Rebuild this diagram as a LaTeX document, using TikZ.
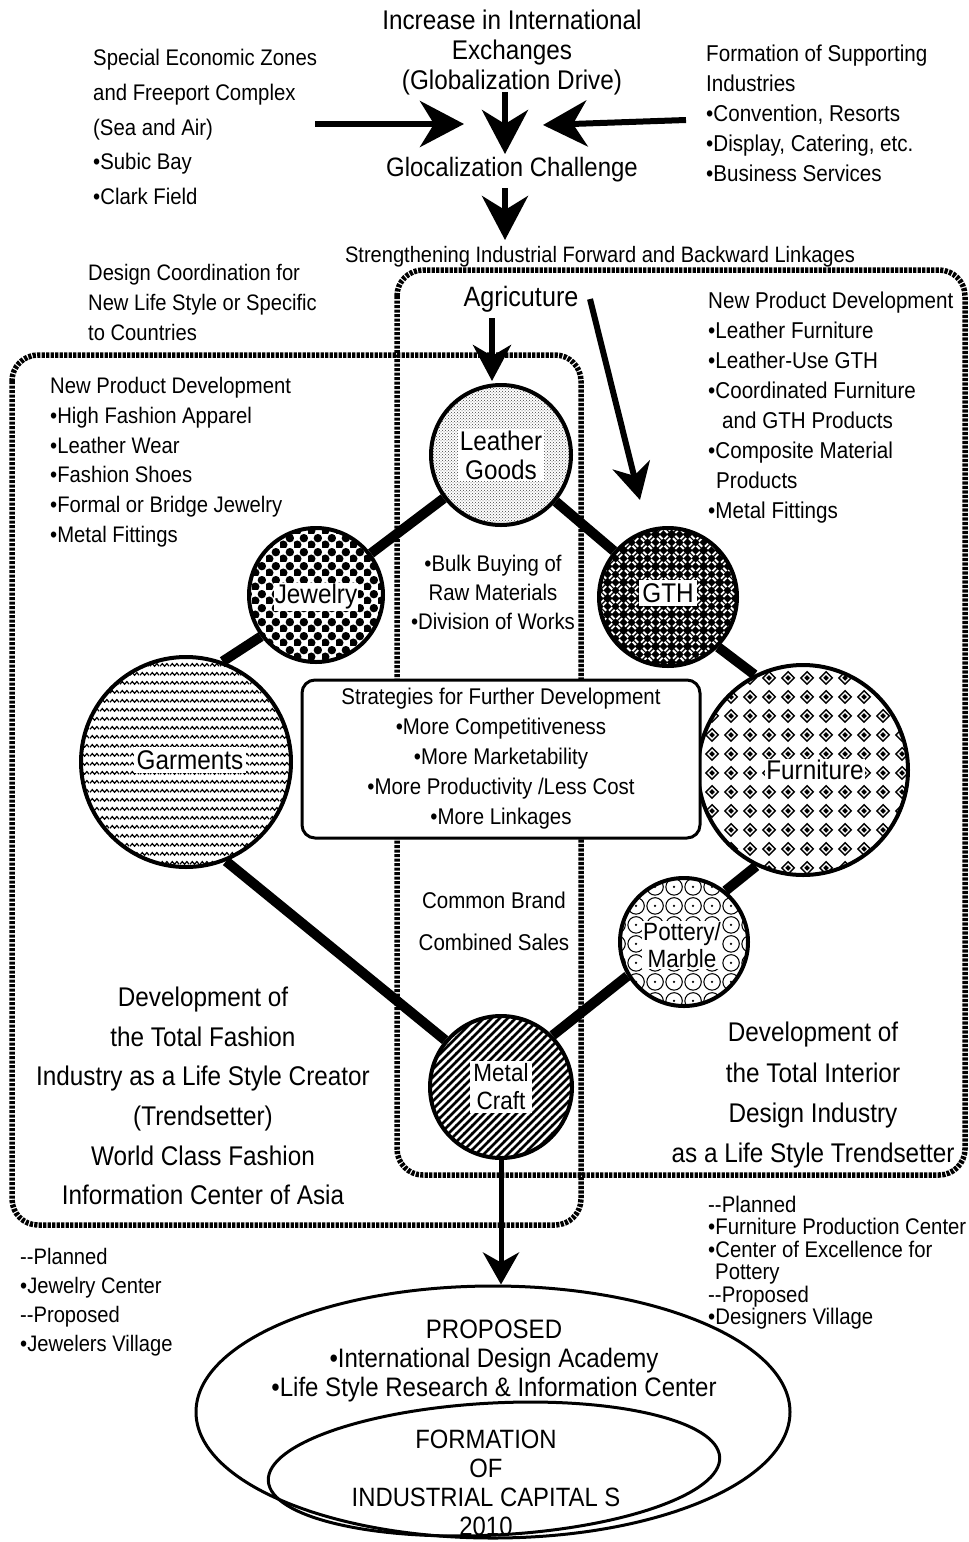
\documentclass[tikz,border=0pt]{standalone}
\usepackage{fontspec}
\setmainfont{Liberation Sans}[FakeStretch=0.9]
\usetikzlibrary{arrows.meta,shapes.geometric,patterns}
\newcommand\fsz[2]{\fontsize{#1}{#2}\selectfont}

% patterns
\pgfdeclarepatternformonly{zig}{\pgfpointorigin}{\pgfpoint{10pt}{9pt}}{\pgfpoint{10pt}{9pt}}{%
  \pgfsetlinewidth{1.3pt}
  \pgfpathmoveto{\pgfpoint{0pt}{3pt}}
  \pgfpathlineto{\pgfpoint{2.5pt}{6pt}}
  \pgfpathlineto{\pgfpoint{5pt}{3pt}}
  \pgfpathlineto{\pgfpoint{7.5pt}{6pt}}
  \pgfpathlineto{\pgfpoint{10pt}{3pt}}
  \pgfusepathqstroke}
\pgfdeclarepatternformonly{jdots}{\pgfpointorigin}{\pgfpoint{14pt}{14pt}}{\pgfpoint{14pt}{14pt}}{%
  \pgfpathcircle{\pgfpoint{3.5pt}{3.5pt}}{4.5pt}
  \pgfpathcircle{\pgfpoint{10.5pt}{10.5pt}}{4.5pt}
  \pgfusepathqfill}
\pgfdeclarepatternformonly{weave}{\pgfpointorigin}{\pgfpoint{16pt}{16pt}}{\pgfpoint{16pt}{16pt}}{%
  \pgfsetlinewidth{2pt}
  \pgfpathmoveto{\pgfpoint{1pt}{3.5pt}}\pgfpathlineto{\pgfpoint{4.5pt}{7pt}}
  \pgfpathmoveto{\pgfpoint{3.5pt}{1pt}}\pgfpathlineto{\pgfpoint{7pt}{4.5pt}}
  \pgfpathmoveto{\pgfpoint{9pt}{11.5pt}}\pgfpathlineto{\pgfpoint{12.5pt}{15pt}}
  \pgfpathmoveto{\pgfpoint{11.5pt}{9pt}}\pgfpathlineto{\pgfpoint{15pt}{12.5pt}}
  \pgfpathmoveto{\pgfpoint{9pt}{4.5pt}}\pgfpathlineto{\pgfpoint{12.5pt}{1pt}}
  \pgfpathmoveto{\pgfpoint{11.5pt}{7pt}}\pgfpathlineto{\pgfpoint{15pt}{3.5pt}}
  \pgfpathmoveto{\pgfpoint{1pt}{12.5pt}}\pgfpathlineto{\pgfpoint{4.5pt}{9pt}}
  \pgfpathmoveto{\pgfpoint{3.5pt}{15pt}}\pgfpathlineto{\pgfpoint{7pt}{11.5pt}}
  \pgfusepathqstroke}
\pgfdeclarepatternformonly{dia}{\pgfpointorigin}{\pgfpoint{19pt}{19pt}}{\pgfpoint{19pt}{19pt}}{%
  \pgfsetlinewidth{1.5pt}
  \pgfpathmoveto{\pgfpoint{9.5pt}{3pt}}\pgfpathlineto{\pgfpoint{16pt}{9.5pt}}
  \pgfpathlineto{\pgfpoint{9.5pt}{16pt}}\pgfpathlineto{\pgfpoint{3pt}{9.5pt}}\pgfpathclose
  \pgfusepathqstroke
  \pgfpathmoveto{\pgfpoint{9.5pt}{6.5pt}}\pgfpathlineto{\pgfpoint{12.5pt}{9.5pt}}
  \pgfpathlineto{\pgfpoint{9.5pt}{12.5pt}}\pgfpathlineto{\pgfpoint{6.5pt}{9.5pt}}\pgfpathclose
  \pgfusepathqfill}
\pgfdeclarepatternformonly{rings}{\pgfpointorigin}{\pgfpoint{19pt}{19pt}}{\pgfpoint{19pt}{19pt}}{%
  \pgfsetlinewidth{1.1pt}
  \pgfpathcircle{\pgfpoint{9.5pt}{9.5pt}}{8.6pt}
  \pgfusepathqstroke
  \pgfpathcircle{\pgfpoint{9.5pt}{9.5pt}}{1.3pt}
  \pgfusepathqfill}
\pgfdeclarepatternformonly{hatch}{\pgfpoint{-1pt}{-1pt}}{\pgfpoint{9pt}{9pt}}{\pgfpoint{8pt}{8pt}}{%
  \pgfsetlinewidth{2.6pt}
  \pgfpathmoveto{\pgfpoint{-1pt}{-1pt}}\pgfpathlineto{\pgfpoint{9pt}{9pt}}
  \pgfusepathqstroke}

\begin{document}
\begin{tikzpicture}[x=1pt,y=-1pt,
  txt/.style={inner sep=0pt, align=left},
  ctxt/.style={inner sep=0pt, align=center},
  rope/.style={line width=5.5pt, dash pattern=on 3.2pt off 1.3pt, rounded corners=26pt},
  link/.style={line width=10pt},
  circ/.style={circle, draw, line width=4pt, inner sep=0pt},
  lbl/.style={fill=white, inner sep=2pt, align=center, font=\fsz{27}{29}},
  bigarrow/.style={line width=6pt, -{Stealth[length=44pt,width=46pt,inset=14pt]}},
  midarrow/.style={line width=6pt, -{Stealth[length=36pt,width=38pt,inset=11pt]}},
  thinarrow/.style={line width=5pt, -{Stealth[length=32pt,width=36pt,inset=10pt]}}
]
\useasboundingbox (0,0) rectangle (969,1542);

% ---- top area ----
\node[ctxt, anchor=north, font=\fsz{27}{30}] (intl) at (512,10)
  {Increase in International\\Exchanges\\(Globalization Drive)};
\node[ctxt, anchor=base, font=\fsz{26.6}{28}] (glocal) at (512,176) {Glocalization Challenge};
\node[txt, anchor=north west, font=\fsz{22.6}{34.8}] (sez) at (93,49)
  {Special Economic Zones\\and Freeport Complex\\(Sea and Air)\\\textbullet Subic Bay\\\textbullet Clark Field};
\node[txt, anchor=north west, font=\fsz{22.9}{30}] (sup) at (706,45)
  {Formation of Supporting\\Industries\\\textbullet Convention, Resorts\\\textbullet Display, Catering, etc.\\\textbullet Business Services};
\node[ctxt, anchor=base, font=\fsz{22.3}{24}] (strength) at (600,262)
  {Strengthening Industrial Forward and Backward Linkages};

\coordinate (la) at (315,124);
\coordinate (lb) at (464,124);
\coordinate (ra) at (686,120);
\coordinate (rb) at (543,125);
\coordinate (da) at (505,92);
\coordinate (db) at (505,154);
\coordinate (ea) at (505,188);
\coordinate (eb) at (505,240);
\draw[bigarrow] (la) -- (lb);
\draw[bigarrow] (ra) -- (rb);
\draw[bigarrow] (da) -- (db);
\draw[bigarrow] (ea) -- (eb);

\node[txt, anchor=north west, font=\fsz{22.4}{30}] (design) at (88,264)
  {Design Coordination for\\New Life Style or Specific\\to Countries};

% ---- rope boxes ----
\draw[rope] (12,355) rectangle (581,1225);
\draw[rope] (397,270) rectangle (965,1175);

\node[ctxt, anchor=base, font=\fsz{28}{30}] (agri) at (521,306) {Agricuture};

% ---- circles ----
\node[circ, minimum size=140pt, fill=white, pattern=crosshatch dots, pattern color=black!75] (leather) at (501,455) {};
\node[circ, minimum size=134pt, pattern=jdots] (jewelry) at (316,595) {};
\node[circ, minimum size=138pt, preaction={fill=black}, pattern=weave, pattern color=white] (gth) at (668,597) {};
\node[circ, minimum size=210pt, pattern=zig] (garments) at (186,762) {};
\node[circ, minimum size=210pt, pattern=dia] (furniture) at (803,770) {};
\node[circ, minimum size=128pt, pattern=rings] (pottery) at (684,942) {};
\node[circ, minimum size=142pt, pattern=hatch] (metal) at (501,1087) {};

\draw[link] (leather) -- (jewelry);
\draw[link] (leather) -- (gth);
\draw[link] (jewelry.217) -- (garments.70);
\draw[link] (gth.315) -- (furniture.117);
\draw[link] (furniture.244) -- (pottery.51);
\draw[link] (pottery.211) -- (metal.45);
\draw[link] (garments.292) -- (metal.140);

\node[lbl] (leatherlbl) at (501,455) {Leather\\Goods};
\node[lbl, inner sep=1pt] (jewelrylbl) at (316,597) {Jewelry};
\node[lbl, inner sep=3pt] (gthlbl) at (668,593) {GTH};
\node[lbl, inner sep=3pt] (garmentslbl) at (190,760) {Garments};
\node[lbl, inner sep=1pt] (furniturelbl) at (815,770) {Furniture};
\node[lbl, font=\fsz{25}{27}, inner sep=1pt] (potterylbl) at (682,945) {Pottery/\\Marble};
\node[lbl, font=\fsz{25}{28}, inner sep=3pt] (metallbl) at (501,1087) {Metal\\Craft};

% agriculture arrows
\coordinate (ga) at (492,318);
\coordinate (gb) at (492,381);
\coordinate (ha) at (590,299);
\coordinate (hb) at (640,500);
\draw[midarrow] (ga) -- (gb);
\draw[midarrow] (ha) -- (hb);

% ---- text blocks ----
\node[txt, anchor=north west, font=\fsz{22.9}{29.9}] (rnpd) at (708,292)
  {New Product Development\\\textbullet Leather Furniture\\\textbullet Leather-Use GTH\\\textbullet Coordinated Furniture\\\hspace*{14pt}and GTH Products\\\textbullet Composite Material\\\hspace*{8pt}Products\\\textbullet Metal Fittings};
\node[txt, anchor=north west, font=\fsz{22.5}{29.8}] (lnpd) at (50,377)
  {New Product Development\\\textbullet High Fashion Apparel\\\textbullet Leather Wear\\\textbullet Fashion Shoes\\\textbullet Formal or Bridge Jewelry\\\textbullet Metal Fittings};
\node[ctxt, anchor=north, font=\fsz{22.6}{29}] (bulk) at (493,555)
  {\textbullet Bulk Buying of\\Raw Materials\\\textbullet Division of Works};

\node[draw, line width=3pt, rounded corners=13pt, fill=white, minimum width=398pt, minimum height=158pt,
  align=center, font=\fsz{22.7}{30}] (strat) at (501,759)
  {Strategies for Further Development\\\textbullet More Competitiveness\\\textbullet More Marketability\\\textbullet More Productivity /Less Cost\\\textbullet More Linkages};

\node[ctxt, anchor=base, font=\fsz{22.8}{24}] (brand) at (494,908) {Common Brand};
\node[ctxt, anchor=base, font=\fsz{22.8}{24}] (sales) at (494,950) {Combined Sales};

\node[ctxt, anchor=north, font=\fsz{27}{39.6}] (ldev) at (203,987)
  {Development of\\the Total Fashion\\Industry as a Life Style Creator\\(Trendsetter)\\World Class Fashion\\Information  Center of Asia};
\node[ctxt, anchor=north, font=\fsz{27}{40.3}] (rdev) at (813,1022)
  {Development of\\the Total Interior\\Design Industry\\as a Life Style Trendsetter};

\node[txt, anchor=north west, font=\fsz{22.6}{22.4}] (rplan) at (708,1196)
  {-{}-Planned\\\textbullet Furniture Production Center\\\textbullet Center of Excellence for\\\hspace*{7pt}Pottery\\-{}-Proposed\\\textbullet Designers Village};
\node[txt, anchor=north west, font=\fsz{22.4}{29}] (lplan) at (20,1248)
  {-{}-Planned\\\textbullet Jewelry Center\\-{}-Proposed\\\textbullet Jewelers Village};

% ---- ellipses ----
\node[ellipse, draw, line width=3pt, minimum width=594pt, minimum height=252pt, inner sep=0pt] (outer) at (493,1412) {};
\node[ellipse, draw, line width=3pt, minimum width=452pt, minimum height=132pt, inner sep=0pt, rotate=3] (inner) at (494,1469) {};
\draw[thinarrow] (metal.south) -- (metal.south |- outer.north);

\node[ctxt, anchor=north, font=\fsz{26.7}{29}] (prop) at (494,1320)
  {PROPOSED\\\textbullet International Design Academy\\\textbullet Life Style Research \& Information Center};
\node[ctxt, anchor=north, font=\fsz{26.5}{29}] (form) at (486,1430)
  {FORMATION\\OF\\INDUSTRIAL CAPITAL S\\2010};
\end{tikzpicture}
\end{document}
